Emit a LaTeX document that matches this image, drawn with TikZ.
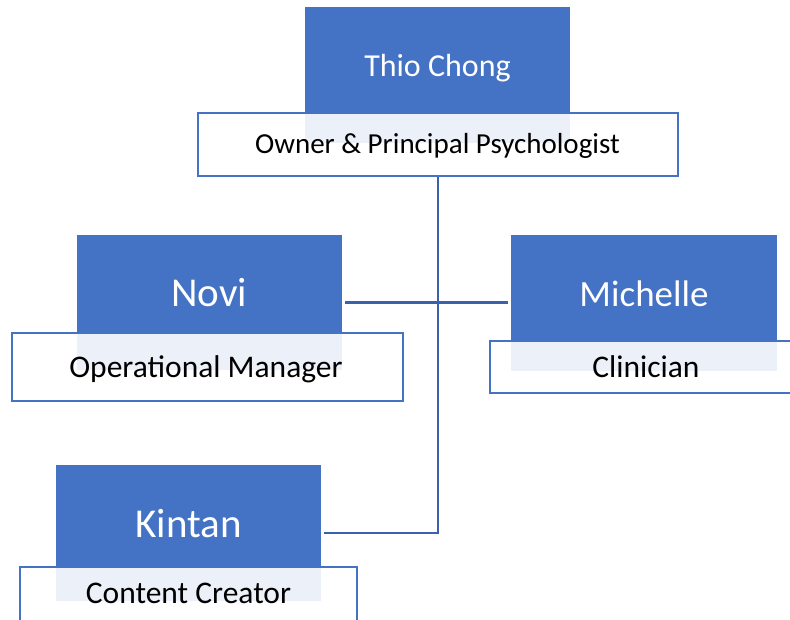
\documentclass[tikz,border=0pt]{standalone}
\usepackage{fontspec}
\setmainfont{Carlito}
\usetikzlibrary{positioning,backgrounds}
\definecolor{boxblue}{HTML}{4472C4}
\definecolor{lineblue}{HTML}{3A62AC}

\begin{document}
\begin{tikzpicture}[x=1pt,y=-1pt,
    namebox/.style={fill=boxblue, inner sep=0pt, minimum width=265pt, minimum height=136pt},
    rolebox/.style={draw=boxblue, line width=1.8pt, fill=white, fill opacity=0.9, inner sep=0pt},
    link/.style={draw=lineblue, line width=2.4pt},
    nametext/.style={text=white, anchor=base},
    roletext/.style={text=black, anchor=base, font=\fontsize{31.5}{36}\selectfont}]
  \useasboundingbox (0,0) rectangle (790,619);
  \clip (0,0) rectangle (790,619);
  % boxes
  \node[namebox] (thio-box) at (437.5,75) {};
  \node[rolebox, minimum width=480pt, minimum height=63pt] (thio-role) at (438,144.5) {};
  \node[namebox, minimum height=135pt] (novi-box) at (209.5,302.5) {};
  \node[rolebox, minimum width=391pt, minimum height=68pt] (novi-role) at (207.5,367) {};
  \node[namebox, minimum width=266pt] (michelle-box) at (644,303) {};
  \node[rolebox, minimum width=310pt, minimum height=52pt] (michelle-role) at (645,367) {};
  \node[namebox] (kintan-box) at (188.5,533) {};
  \node[rolebox, minimum width=337pt, minimum height=73pt] (kintan-role) at (188.5,603.5) {};
  % texts
  \node[nametext, font=\fontsize{32}{38}\selectfont] (thio-name) at (437.5,76) {Thio Chong};
  \node[roletext, font=\fontsize{29}{34}\selectfont] (thio-title) at (437.5,153) {Owner \& Principal Psychologist};
  \node[nametext, font=\fontsize{41}{48}\selectfont] (novi-name) at (209,306) {Novi};
  \node[roletext] (novi-title) at (206,377) {Operational Manager};
  \node[nametext, font=\fontsize{37}{44}\selectfont] (michelle-name) at (644,306) {Michelle};
  \node[roletext] (michelle-title) at (646,377) {Clinician};
  \node[nametext, font=\fontsize{41}{48}\selectfont] (kintan-name) at (188.5,537) {Kintan};
  \node[roletext] (kintan-title) at (188.5,603) {Content Creator};
  % connectors
  \begin{scope}[on background layer]
    \draw[link] (thio-role.south) |- ([xshift=3pt]kintan-box.east);
    \draw[link, shorten <=3pt, shorten >=3pt] (novi-box.east) -- (michelle-box.west |- novi-box.east);
  \end{scope}
\end{tikzpicture}
\end{document}
